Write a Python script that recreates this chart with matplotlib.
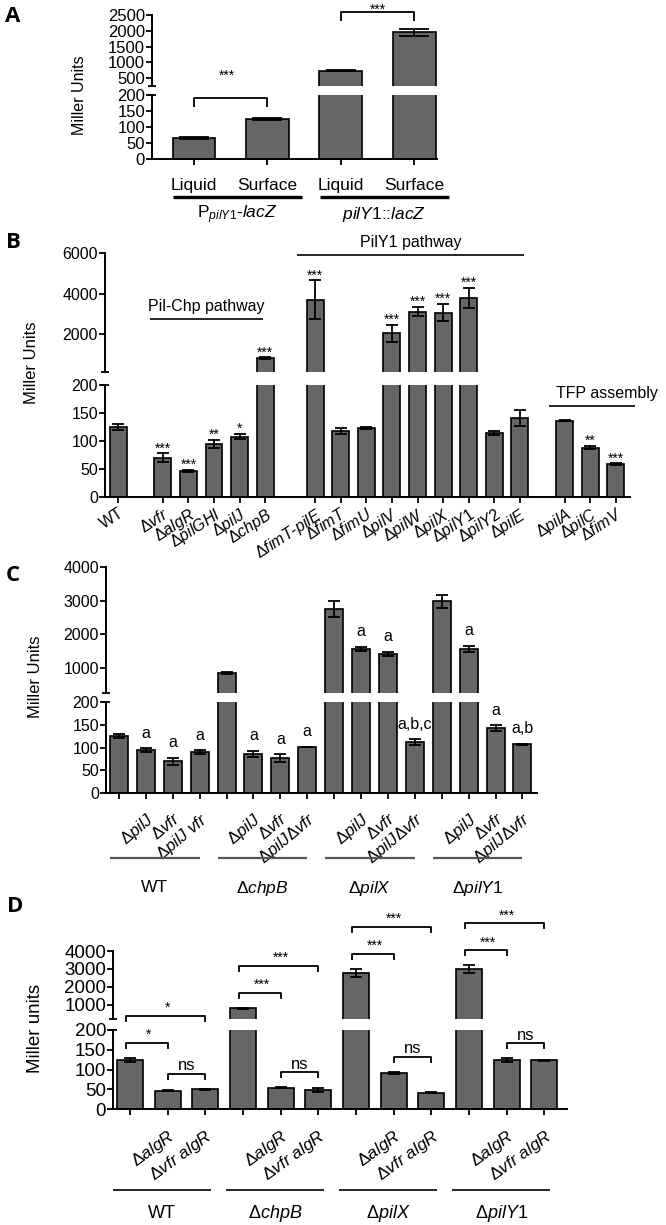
import re
import matplotlib
matplotlib.use('Agg')
import matplotlib.pyplot as plt
from matplotlib.lines import Line2D
from matplotlib.transforms import IdentityTransform

plt.rcParams['font.family'] = ['Liberation Sans', 'DejaVu Sans']
plt.rcParams['mathtext.fontset'] = 'custom'
plt.rcParams['mathtext.rm'] = 'Liberation Sans'
plt.rcParams['mathtext.it'] = 'Liberation Sans:italic'
plt.rcParams['mathtext.bf'] = 'Liberation Sans:bold'

# ---------------- data ----------------
# Panel A
a_labels = ['Liquid', 'Surface', 'Liquid', 'Surface']
a_groups = [r'P$_{\mathit{pilY1}}$-$\mathit{lacZ}$', r'$\mathit{pilY1}$::$\mathit{lacZ}$']
a_vals = [65, 125, 730, 1950]
a_err = [3, 3, 15, 120]
a_sig = ['***', '***']

# Panel B
b_labels = ['WT', 'Δvfr', 'ΔalgR', 'ΔpilGHI', 'ΔpilJ', 'ΔchpB',
            'ΔfimT-pilE', 'ΔfimT', 'ΔfimU', 'ΔpilV', 'ΔpilW', 'ΔpilX', 'ΔpilY1', 'ΔpilY2', 'ΔpilE',
            'ΔpilA', 'ΔpilC', 'ΔfimV']
b_vals = [125, 70, 47, 95, 108, 830,
          3700, 118, 123, 2050, 3120, 3070, 3800, 114, 141,
          136, 88, 59]
b_err = [5, 8, 2, 7, 5, 40,
         950, 6, 2, 420, 220, 420, 480, 3, 15,
         1, 3, 1]
b_sig = ['', '***', '***', '**', '*', '***',
         '***', '', '', '***', '***', '***', '***', '', '',
         '', '**', '***']
b_group_sizes = [1, 5, 9, 3]
b_pathways = ['Pil-Chp pathway', 'PilY1 pathway', 'TFP assembly']

# Panel C
c_labels = ['', 'ΔpilJ', 'Δvfr', 'ΔpilJ vfr',
            '', 'ΔpilJ', 'Δvfr', 'ΔpilJΔvfr',
            '', 'ΔpilJ', 'Δvfr', 'ΔpilJΔvfr',
            '', 'ΔpilJ', 'Δvfr', 'ΔpilJΔvfr']
c_vals = [125, 94, 70, 90, 850, 86, 77, 101, 2740, 1567, 1420, 112, 2980, 1567, 143, 107]
c_err = [5, 4, 8, 4, 30, 6, 8, 0, 240, 60, 60, 6, 200, 90, 6, 1]
c_sig = ['', 'a', 'a', 'a', '', 'a', 'a', 'a', '', 'a', 'a', 'a,b,c', '', 'a', 'a', 'a,b']
c_groups = ['WT', 'ΔchpB', 'ΔpilX', 'ΔpilY1']

# Panel D
d_labels = ['', 'ΔalgR', 'Δvfr algR'] * 4
d_vals = [125, 46, 50, 830, 54, 48, 2780, 91, 41, 3000, 124, 123]
d_err = [5, 1, 1, 30, 1, 4, 210, 3, 1, 200, 4, 2]
d_groups = ['WT', 'ΔchpB', 'ΔpilX', 'ΔpilY1']
d_sig_short = ['*', '***', '***', '***']
d_sig_long = ['*', '***', '***', '***']
d_sig_ns = ['ns', 'ns', 'ns', 'ns']

# ---------------- helpers ----------------
W, H = 666, 1225
LO_TOP = 200
fig = plt.figure(figsize=(W / 100, H / 100), dpi=100)
BAR = '#666666'
ID = IdentityTransform()


def rect(l, t, r, b):
    return [l / W, 1 - b / H, (r - l) / W, (b - t) / H]


def dline(xs, ys, **kw):
    kw.setdefault('color', 'black')
    kw.setdefault('lw', 1.3)
    fig.add_artist(Line2D(xs, ys, transform=ID, solid_capstyle='butt', **kw))


def dtext(x, y, s, **kw):
    fig.text(x, y, s, transform=ID, **kw)


def fmt(s):
    if s in ('', 'WT'):
        return s
    out = []
    for t in re.split(r'(Δ|-| )', s):
        if t == '':
            continue
        if t == 'Δ':
            out.append(r'$\Delta$')
        elif t in ('-', ' '):
            out.append(t)
        else:
            out.append(r'$\mathit{' + t + '}$')
    return ''.join(out).replace('$$', '')


def positions(sizes, gaps):
    pos, x = [], 0.0
    for i, n in enumerate(sizes):
        for _ in range(n):
            pos.append(x)
            x += 1
        if i < len(gaps):
            x += gaps[i]
    return pos


def broken(l, r, t_hi, b_hi, t_lo, b_lo, hi_lim, hi_ticks, xlim, fs):
    ax_hi = fig.add_axes(rect(l, t_hi, r, b_hi))
    ax_lo = fig.add_axes(rect(l, t_lo, r, b_lo))
    for ax in (ax_hi, ax_lo):
        ax.set_xlim(*xlim)
        ax.spines['top'].set_visible(False)
        ax.spines['right'].set_visible(False)
        ax.spines['left'].set_linewidth(1.4)
        ax.spines['bottom'].set_linewidth(1.4)
        ax.tick_params(axis='y', direction='out', length=4, width=1.3, labelsize=fs, pad=1)
        ax.patch.set_alpha(0)
    ax_hi.spines['bottom'].set_visible(False)
    ax_hi.tick_params(axis='x', bottom=False, labelbottom=False)
    ax_hi.set_ylim(*hi_lim)
    ax_hi.set_yticks(hi_ticks)
    ax_lo.set_ylim(0, LO_TOP)
    ax_lo.set_yticks([0, 50, 100, 150, 200])
    ax_lo.tick_params(axis='x', direction='out', length=4, width=1.3)
    X, Y = ax_hi.transAxes.transform((0, 0))
    dline([X - 4, X + 4], [Y, Y])
    X, Y = ax_lo.transAxes.transform((0, 1))
    dline([X - 4, X + 4], [Y, Y])
    return ax_hi, ax_lo


def draw_bars(ax_hi, ax_lo, pos, vals, err, width, capsize):
    big = [i for i, v in enumerate(vals) if v > LO_TOP]
    sets = [(ax_lo, list(range(len(vals)))), (ax_hi, big)]
    for ax, idx in sets:
        p = [pos[i] for i in idx]
        v = [vals[i] for i in idx]
        e = [err[i] for i in idx]
        ax.bar(p, v, width=width, color=BAR, edgecolor='black', linewidth=1.2, zorder=2)
        ax.errorbar(p, v, yerr=e, fmt='none', ecolor='black', elinewidth=1.3,
                    capsize=capsize, capthick=1.3, zorder=3)


def top_px(hi, lo, x, v):
    ax = hi if v > LO_TOP else lo
    return ax.transData.transform((x, v))


def xpx(ax, x):
    return ax.transData.transform((x, 0))[0]


def mark(x, yc, s, fs):
    off = 0.58 if '*' in s else 0.27
    dtext(x, yc - off * fs * 100 / 72, s, ha='center', va='baseline', fontsize=fs)


def bracket(x1, x2, y, tip=6):
    dline([x1, x1, x2, x2], [y - tip, y, y, y - tip])


# ---------------- Panel A ----------------
aA_hi, aA_lo = broken(152, 437, 15, 86, 95, 159, (250, 2500), [500, 1000, 1500, 2000, 2500],
                      (-0.57, 3.31), 12)
a_pos = list(range(len(a_vals)))
draw_bars(aA_hi, aA_lo, a_pos, a_vals, a_err, 0.58, 11)
aA_lo.set_xticks(a_pos)
aA_lo.set_xticklabels(a_labels, fontsize=12.5)
aA_lo.tick_params(axis='x', pad=10)
ybase = aA_lo.transAxes.transform((0, 0))[1]
for g in range(2):
    i0, i1 = 2 * g, 2 * g + 1
    x1, x2 = xpx(aA_lo, i0 - 0.28), xpx(aA_lo, i1 + 0.47)
    dline([x1, x2], [ybase - 38, ybase - 38], lw=2.4)
    dtext((x1 + x2) / 2, ybase - 56, a_groups[g], ha='center', va='center', fontsize=12.5)
# significance brackets
X0, X1 = xpx(aA_lo, 0), xpx(aA_lo, 1)
yb = top_px(aA_hi, aA_lo, 1, a_vals[1] + a_err[1])[1] + 20
bracket(X0, X1, yb, 9)
mark((X0 + X1) / 2 - 4, yb + 26, a_sig[0], 10)
X2, X3 = xpx(aA_lo, 2), xpx(aA_lo, 3)
yb = top_px(aA_hi, aA_lo, 3, a_vals[3] + a_err[3])[1] + 17
bracket(X2, X3, yb, 9)
mark((X2 + X3) / 2, yb + 6, a_sig[1], 10)

# ---------------- Panel B ----------------
b_pos = positions(b_group_sizes, [0.75, 0.95, 0.75])
aB_hi, aB_lo = broken(105, 630, 253, 372, 385, 497, (150, 6000), [2000, 4000, 6000],
                      (-0.51, 20.0), 11.5)
draw_bars(aB_hi, aB_lo, b_pos, b_vals, b_err, 0.66, 4.3)
aB_lo.set_xticks(b_pos)
aB_lo.set_xticklabels([fmt(s) for s in b_labels], rotation=33, ha='right', va='top',
                      rotation_mode='anchor', fontsize=11.5)
aB_lo.tick_params(axis='x', pad=2)
for i, s in enumerate(b_sig):
    if s:
        X, Y = top_px(aB_hi, aB_lo, b_pos[i], b_vals[i] + b_err[i])
        mark(X, Y + 9, s, 10)
# pathway annotations
starts = [1, 6, 15]
ends = [5, 14, 17]
specs = [(aB_hi, 2780, -0.5, -0.1, 0), (aB_hi, 5900, -0.7, 0.15, 0), (aB_lo, 162, -0.6, 0.75, 15)]
for name, s0, s1, (ax, yv, lpad, rpad, tdx) in zip(b_pathways, starts, ends, specs):
    x1, x2 = xpx(ax, b_pos[s0] + lpad), xpx(ax, b_pos[s1] + rpad)
    y = ax.transData.transform((0, yv))[1]
    dline([x1, x2], [y, y], lw=1.2)
    dtext((x1 + x2) / 2 + tdx, y + 8, name, ha='center', va='baseline', fontsize=11.5)

# ---------------- Panel C ----------------
c_pos = list(range(len(c_vals)))
aC_hi, aC_lo = broken(106, 537, 567, 693, 702, 793, (254, 4000), [1000, 2000, 3000, 4000],
                      (-0.48, 15.54), 11.5)
draw_bars(aC_hi, aC_lo, c_pos, c_vals, c_err, 0.67, 4.3)
aC_lo.set_xticks(c_pos)
aC_lo.set_xticklabels([fmt(s) for s in c_labels], rotation=40, ha='right', va='top',
                      rotation_mode='anchor', fontsize=12)
aC_lo.tick_params(axis='x', pad=8)
for i, s in enumerate(c_sig):
    if s:
        X, Y = top_px(aC_hi, aC_lo, c_pos[i], c_vals[i] + c_err[i])
        mark(X, Y + 15, s, 11.5)
ybase = aC_lo.transAxes.transform((0, 0))[1]
for g, name in enumerate(c_groups):
    i0 = 4 * g
    x1, x2 = xpx(aC_lo, i0 - 0.33), xpx(aC_lo, i0 + 3)
    dline([x1, x2], [ybase - 65, ybase - 65], lw=1.6, color='#555555')
    dtext((x1 + x2) / 2, ybase - 95, fmt(name), ha='center', va='center', fontsize=12.5)

# ---------------- Panel D ----------------
d_pos = list(range(len(d_vals)))
aD_hi, aD_lo = broken(113, 567, 951, 1019, 1030, 1109, (222, 4000), [1000, 2000, 3000, 4000],
                      (-0.45, 11.6), 13.5)
draw_bars(aD_hi, aD_lo, d_pos, d_vals, d_err, 0.69, 4.5)
aD_lo.set_xticks(d_pos)
aD_lo.set_xticklabels([fmt(s) for s in d_labels], rotation=36, ha='right', va='top',
                      rotation_mode='anchor', fontsize=12.5)
aD_lo.tick_params(axis='x', pad=9)
ybase = aD_lo.transAxes.transform((0, 0))[1]
for g, name in enumerate(d_groups):
    k = 3 * g
    xs = [xpx(aD_lo, k + j) for j in range(3)]
    t = [top_px(aD_hi, aD_lo, k + j, d_vals[k + j] + d_err[k + j])[1] for j in range(3)]
    ys = t[0] + 15
    yl = ys + 27
    yn = max(t[1], t[2]) + 15
    bracket(xs[0] - 4, xs[1], ys)
    mark((xs[0] + xs[1]) / 2, ys + 12, d_sig_short[g], 10)
    bracket(xs[0] - 4, xs[2], yl)
    mark((xs[0] + xs[2]) / 2, yl + 12, d_sig_long[g], 10)
    bracket(xs[1], xs[2], yn)
    mark((xs[1] + xs[2]) / 2, yn + 8, d_sig_ns[g], 12)
    x1, x2 = xpx(aD_lo, k - 0.45), xpx(aD_lo, k + 2.16)
    dline([x1, x2], [ybase - 81, ybase - 81], lw=1.2)
    dtext((x1 + x2) / 2, ybase - 104, fmt(name), ha='center', va='center', fontsize=13)

# ---------------- axis titles & panel letters ----------------
for (x, y, s, fs) in [(80, 95, 'Miller Units', 11.5), (32, 363, 'Miller Units', 12),
                      (35, 677, 'Miller Units', 12), (36, 1028, 'Miller units', 13.5)]:
    fig.text(x / W, 1 - y / H, s, rotation=90, ha='center', va='center', fontsize=fs)
for (x, y, s) in [(13, 17, 'A'), (13, 242, 'B'), (13, 575, 'C'), (15, 907, 'D')]:
    fig.text(x / W, 1 - y / H, s, ha='center', va='center', fontsize=16, fontweight='bold',
             family=['Open Sans', 'DejaVu Sans'])

fig.savefig('out.png', dpi=100)
